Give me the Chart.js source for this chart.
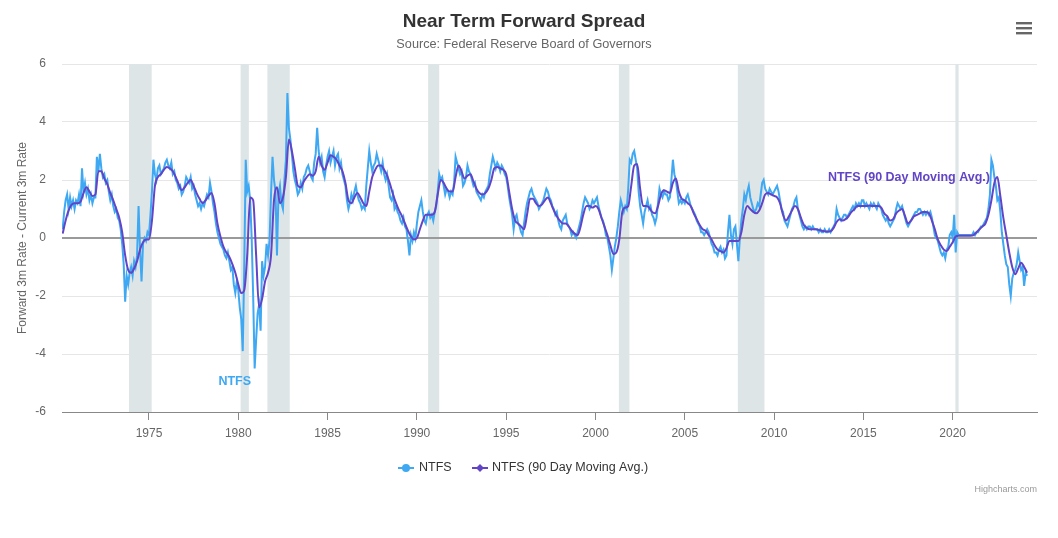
<!DOCTYPE html>
<html>
<head>
<meta charset="utf-8">
<title>Near Term Forward Spread</title>
<script src="https://cdn.jsdelivr.net/npm/chart.js"></script>
<style>
  body { margin: 0; background: #fff; }
  #wrap { position: relative; width: 1058px; height: 538px; }
</style>
</head>
<body>
<div id="wrap"><canvas id="chart" width="1058" height="538"></canvas></div>
<script>
// monthly NTFS readings, first value is March 1970
const ntfsStart = 1970 + 2 / 12;
const ntfsValues = [
  0.3, 0.9, 1.3, 1.5, 1.0, 1.4, 1.1, 1.3, 1.0, 1.3,                 // 1970 (Mar-Dec)
  1.2, 1.5, 1.1, 2.4, 1.6, 1.9, 1.5, 1.7, 1.3, 1.5, 1.2, 1.4,       // 1971
  1.4, 2.8, 2.3, 2.9, 2.4, 2.1, 2.2, 1.9, 2.0, 1.6, 1.3, 1.5,       // 1972
  1.1, 0.9, 1.0, 0.7, 0.6, 0.3, -0.2, -0.9, -2.2, -1.3, -1.6, -1.2, // 1973
  -1.0, -1.3, -0.8, -1.0, -0.6, 1.1, -0.4, -1.5, -0.2, 0.0, -0.1, 0.2, // 1974
  0.1, 0.8, 1.6, 2.7, 2.2, 2.0, 2.4, 2.5, 2.2, 2.3, 2.4, 2.6,       // 1975
  2.7, 2.5, 2.4, 2.6, 2.2, 2.3, 2.0, 1.9, 1.7, 1.8, 1.5, 1.6,       // 1976
  1.8, 2.1, 2.0, 1.9, 2.1, 1.7, 1.8, 1.5, 1.3, 1.1, 1.2, 1.0,       // 1977
  1.2, 1.1, 1.3, 1.5, 1.4, 1.9, 1.6, 1.2, 0.9, 0.5, 0.2, 0.0,       // 1978
  -0.2, -0.3, -0.4, -0.6, -0.7, -0.5, -0.8, -1.1, -1.0, -1.6, -1.9, -1.5, // 1979
  -1.8, -2.4, -2.8, -3.9, -1.0, 2.7, 1.6, 1.8, 1.3, 0.0, -2.0, -4.5, // 1980
  -3.5, -2.6, -2.3, -3.2, -0.8, -1.3, -1.0, -0.2, -0.6, -0.1, 1.5, 2.8, // 1981
  2.0, 1.6, -0.6, 1.5, 1.8, 1.2, 1.0, 2.0, 2.7, 5.0, 3.8, 3.4,      // 1982
  2.9, 2.3, 2.0, 1.8, 1.5, 1.6, 1.9, 1.7, 2.1, 2.2, 2.4, 2.5,       // 1983
  2.3, 2.1, 2.0, 2.6, 2.9, 3.8, 3.0, 2.6, 2.8, 2.3, 2.1, 2.5,       // 1984
  2.8, 3.0, 2.6, 2.8, 3.0, 2.5, 2.8, 2.9, 2.4, 2.6, 2.2, 2.0,       // 1985
  1.8, 1.3, 1.0, 1.2, 1.5, 1.3, 1.6, 1.8, 1.5, 1.3, 1.2, 1.0,       // 1986
  1.1, 1.0, 1.8, 2.4, 3.0, 2.6, 2.3, 2.5, 2.6, 2.9, 2.7, 2.5,       // 1987
  2.3, 2.6, 2.2, 2.0, 2.2, 1.8, 1.4, 1.3, 1.5, 1.0, 1.1, 0.9,       // 1988
  0.8, 0.6, 0.5, 0.7, 0.4, 0.3, -0.1, -0.6, 0.1, -0.1, 0.2, 0.0,    // 1989
  0.5, 0.9, 1.1, 1.3, 0.9, 0.6, 0.5, 0.8, 0.9, 0.7, 0.8, 0.6,       // 1990
  0.9, 1.1, 1.6, 2.2, 2.0, 2.1, 1.8, 1.5, 1.7, 1.6, 1.4, 1.6,       // 1991
  1.5, 1.9, 2.8, 2.6, 2.4, 2.2, 2.3, 1.8, 1.9, 2.1, 2.5, 2.3,       // 1992
  2.2, 2.0, 1.8, 1.9, 1.6, 1.5, 1.4, 1.3, 1.5, 1.4, 1.6, 1.7,       // 1993
  1.8, 2.2, 2.5, 2.8, 2.6, 2.4, 2.6, 2.5, 2.3, 2.5, 2.4, 2.2,       // 1994
  2.1, 1.8, 1.4, 1.1, 0.8, 0.3, 0.7, 0.8, 0.5, 0.4, 0.2, 0.1,       // 1995
  0.5, 0.9, 1.2, 1.4, 1.6, 1.7, 1.5, 1.4, 1.3, 1.2, 1.0, 1.1,       // 1996
  1.2, 1.3, 1.5, 1.7, 1.6, 1.4, 1.3, 1.1, 1.0, 0.8, 0.9, 0.6,       // 1997
  0.4, 0.3, 0.6, 0.7, 0.8, 0.5, 0.4, 0.3, 0.1, 0.2, 0.1, 0.0,       // 1998
  0.2, 0.4, 0.6, 0.9, 1.2, 1.4, 1.3, 1.2, 1.0, 1.1, 1.3, 1.2,       // 1999
  1.3, 1.4, 1.1, 0.9, 0.7, 0.6, 0.4, 0.1, 0.0, -0.3, -0.6, -1.1,    // 2000
  -0.7, -0.3, 0.0, 0.4, 0.9, 1.3, 1.1, 0.9, 1.1, 1.0, 1.7, 2.7,     // 2001
  2.6, 2.9, 3.0, 2.7, 2.4, 1.6, 1.1, 0.8, 0.5, 0.9, 1.1, 1.3,       // 2002
  1.0, 1.1, 0.8, 0.7, 0.5, 0.7, 1.2, 1.7, 1.5, 1.4, 1.6, 1.5,       // 2003
  1.5, 1.3, 1.4, 2.0, 2.7, 2.2, 2.0, 1.6, 1.2, 1.3, 1.2, 1.3,       // 2004
  1.2, 1.4, 1.5, 1.3, 1.1, 1.0, 0.9, 0.8, 0.6, 0.5, 0.4, 0.2,       // 2005
  0.2, 0.1, 0.2, 0.3, 0.2, 0.0, -0.2, -0.3, -0.5, -0.5, -0.6, -0.4, // 2006
  -0.3, -0.5, -0.4, -0.7, -0.6, 0.2, 0.8, 0.1, -0.2, 0.3, 0.4, -0.2, // 2007
  -0.8, 0.0, 0.6, 1.0, 1.5, 1.3, 1.6, 1.8, 1.4, 1.2, 1.0, 0.9,      // 2008
  1.0, 1.2, 1.1, 1.5, 1.9, 2.0, 1.7, 1.6, 1.5, 1.7, 1.6, 1.5,       // 2009
  1.6, 1.7, 1.8, 1.6, 1.3, 1.0, 0.9, 0.6, 0.5, 0.4, 0.6, 0.8,       // 2010
  1.0, 1.1, 1.3, 1.4, 1.0, 0.8, 0.6, 0.4, 0.3, 0.4, 0.3, 0.4,       // 2011
  0.4, 0.3, 0.4, 0.3, 0.3, 0.3, 0.2, 0.3, 0.2, 0.2, 0.3, 0.2,       // 2012
  0.2, 0.3, 0.2, 0.3, 0.4, 0.5, 1.0, 0.8, 0.7, 0.6, 0.7, 0.8,       // 2013
  0.8, 0.7, 0.8, 0.9, 1.0, 1.1, 1.0, 1.2, 1.1, 1.2, 1.1, 1.3,       // 2014
  1.3, 1.1, 1.2, 1.1, 1.0, 1.2, 1.1, 1.2, 1.1, 1.0, 1.2, 1.1,       // 2015
  1.0, 0.8, 0.7, 0.6, 0.7, 0.5, 0.4, 0.5, 0.6, 0.7, 1.0, 1.2,       // 2016
  1.1, 1.0, 1.1, 0.9, 0.7, 0.5, 0.4, 0.5, 0.6, 0.7, 0.8, 0.9,       // 2017
  0.9, 1.0, 1.0, 0.9, 0.8, 0.9, 0.8, 0.9, 0.8, 0.9, 0.7, 0.4,       // 2018
  0.1, 0.0, -0.1, -0.3, -0.5, -0.6, -0.5, -0.7, -0.4, -0.3, 0.1, 0.2, // 2019
  0.0, 0.8, -0.5, 0.2, 0.1, 0.1, 0.1, 0.1, 0.1, 0.1, 0.1, 0.1,      // 2020
  0.1, 0.1, 0.2, 0.1, 0.2, 0.2, 0.3, 0.4, 0.4, 0.5, 0.6, 0.7,       // 2021
  1.0, 1.5, 2.7, 2.5, 2.1, 1.8, 1.3, 1.4, 0.9, 0.2, -0.2, -0.6,     // 2022
  -0.9, -1.0, -1.6, -2.0, -1.4, -1.2, -1.1, -0.9, -0.5, -0.8, -1.1, -1.0, // 2023
  -1.65, -1.2, -1.3                                                 // 2024 (Jan-Mar)
];

// 90 day moving average, read every second month, first value is March 1970
const maStart = 1970 + 2 / 12;
const maValues = [
  0.15, 0.6, 0.95, 1.15, 1.2,           // 1970
  1.2, 1.25, 1.55, 1.75, 1.6, 1.45,     // 1971
  1.5, 2.3, 2.3, 2.05, 1.85, 1.55,      // 1972
  1.3, 1.0, 0.7, 0.2, -0.6, -1.1,       // 1973
  -1.2, -1.05, -0.8, -0.4, -0.15, -0.05, // 1974
  -0.05, 0.6, 1.8, 2.1, 2.2, 2.35,      // 1975
  2.45, 2.4, 2.3, 2.1, 1.85, 1.65,      // 1976
  1.75, 1.9, 2.0, 1.8, 1.55, 1.35,      // 1977
  1.2, 1.3, 1.45, 1.55, 1.2, 0.5,       // 1978
  0.05, -0.3, -0.5, -0.65, -0.9, -1.2,  // 1979
  -1.6, -1.9, -1.8, -0.6, 1.4, 1.3,     // 1980
  -0.6, -2.4, -2.1, -1.5, -1.2, -0.6,   // 1981
  1.3, 1.75, 1.2, 1.4, 2.1, 3.4,        // 1982
  3.0, 2.4, 1.8, 1.75, 1.95, 2.1,       // 1983
  2.2, 2.15, 2.3, 2.8, 2.5, 2.35,       // 1984
  2.6, 2.85, 2.8, 2.7, 2.5, 2.3,        // 1985
  1.9, 1.3, 1.2, 1.4, 1.55, 1.4,        // 1986
  1.2, 1.1, 1.6, 2.1, 2.35, 2.5,        // 1987
  2.5, 2.35, 2.15, 1.85, 1.5, 1.2,      // 1988
  0.95, 0.75, 0.5, 0.25, 0.05, -0.05,   // 1989
  0.0, 0.3, 0.6, 0.8, 0.8, 0.8,         // 1990
  0.9, 1.5, 2.0, 1.9, 1.7, 1.6,         // 1991
  1.6, 2.1, 2.5, 2.3, 2.05, 2.15,       // 1992
  2.2, 1.95, 1.7, 1.55, 1.5, 1.55,      // 1993
  1.7, 2.0, 2.4, 2.45, 2.4, 2.35,       // 1994
  2.2, 1.6, 1.0, 0.6, 0.5, 0.4,         // 1995
  0.3, 0.8, 1.35, 1.35, 1.2, 1.1,       // 1996
  1.15, 1.3, 1.4, 1.2, 0.95, 0.75,      // 1997
  0.6, 0.5, 0.5, 0.4, 0.25, 0.15,       // 1998
  0.1, 0.4, 0.85, 1.1, 1.1, 1.05,       // 1999
  1.1, 1.0, 0.7, 0.4, 0.1, -0.25,       // 2000
  -0.55, -0.5, -0.05, 0.9, 1.05, 1.1,   // 2001
  1.8, 2.5, 2.55, 1.7, 1.1, 1.1,        // 2002
  1.05, 0.9, 0.85, 1.1, 1.5, 1.65,      // 2003
  1.6, 1.55, 1.9, 2.05, 1.6, 1.35,      // 2004
  1.3, 1.2, 1.1, 0.85, 0.65, 0.45,      // 2005
  0.3, 0.25, 0.1, -0.05, -0.25, -0.4,   // 2006
  -0.45, -0.5, -0.35, -0.1, -0.1, -0.1, // 2007
  -0.1, 0.2, 0.8, 1.1, 1.0, 0.9,        // 2008
  0.85, 0.95, 1.2, 1.5, 1.55, 1.5,      // 2009
  1.45, 1.4, 1.2, 0.8, 0.6, 0.75,       // 2010
  0.95, 1.1, 1.0, 0.7, 0.45, 0.35,      // 2011
  0.3, 0.3, 0.3, 0.28, 0.25, 0.23,      // 2012
  0.22, 0.23, 0.35, 0.55, 0.65, 0.6,    // 2013
  0.65, 0.75, 0.9, 1.0, 1.1, 1.1,       // 2014
  1.1, 1.1, 1.12, 1.1, 1.1, 1.1,        // 2015
  1.05, 0.85, 0.75, 0.6, 0.65, 0.85,    // 2016
  0.95, 1.0, 0.75, 0.5, 0.6, 0.75,      // 2017
  0.8, 0.85, 0.9, 0.9, 0.85, 0.6,       // 2018
  0.3, -0.05, -0.25, -0.4, -0.45, -0.3, // 2019
  -0.15, 0.05, 0.08, 0.08, 0.08, 0.08,  // 2020
  0.08, 0.1, 0.2, 0.3, 0.4, 0.5,        // 2021
  0.8, 1.3, 1.9, 2.1, 1.45, 0.7,        // 2022
  0.1, -0.5, -1.0, -1.25, -1.05, -0.85, // 2023
  -1.0, -1.2                            // 2024
];

// recessions shaded on the chart [start, end] in decimal years
const recessions = [
  [1973.88, 1975.15], [1980.13, 1980.59], [1981.63, 1982.88], [1990.63, 1991.25],
  [2001.31, 2001.9], [2007.97, 2009.46], [2020.15, 2020.33]
];

const xTicks = [1975, 1980, 1985, 1990, 1995, 2000, 2005, 2010, 2015, 2020];
const yTicks = [-6, -4, -2, 0, 2, 4, 6];
const seriesNames = ["NTFS", "NTFS (90 Day Moving Avg.)"];

const blue = "#3ea8f3";
const purple = "#6244c6";
const FONT = '"Liberation Sans", Arial, Helvetica, sans-serif';

const ntfsPoints = ntfsValues.map((v, i) => ({ x: ntfsStart + i / 12, y: v }));
const maPoints = maValues.map((v, i) => ({ x: maStart + i * 2 / 12, y: v }));

// grey recession bands behind everything in the plot
const bandsPlugin = {
  id: "bands",
  beforeDatasetsDraw(chart) {
    const { ctx, chartArea, scales } = chart;
    ctx.save();
    ctx.fillStyle = "#dde5e6";
    recessions.forEach(r => {
      const x1 = scales.x.getPixelForValue(r[0]);
      const x2 = scales.x.getPixelForValue(r[1]);
      ctx.fillRect(x1, chartArea.top, x2 - x1, chartArea.bottom - chartArea.top);
    });
    // zero line sits above the bands
    const y0 = Math.round(scales.y.getPixelForValue(0));
    ctx.strokeStyle = "#9a9a9a";
    ctx.lineWidth = 2;
    ctx.beginPath();
    ctx.moveTo(chartArea.left, y0);
    ctx.lineTo(chartArea.right, y0);
    ctx.stroke();
    ctx.restore();
  }
};

// title, subtitle, menu icon, series labels, legend and credits
const decorPlugin = {
  id: "decor",
  afterDatasetsDraw(chart) {
    const { ctx, scales } = chart;
    ctx.save();
    ctx.font = "bold 12.5px " + FONT;
    ctx.textAlign = "center";
    ctx.textBaseline = "middle";
    ctx.fillStyle = blue;
    ctx.fillText("NTFS", scales.x.getPixelForValue(1979.8), scales.y.getPixelForValue(-4.95));
    ctx.fillStyle = purple;
    ctx.fillText("NTFS (90 Day Moving Avg.)", scales.x.getPixelForValue(2017.55), scales.y.getPixelForValue(2.1));
    ctx.restore();
  },
  afterDraw(chart) {
    const { ctx } = chart;
    const cx = 524;
    ctx.save();
    ctx.textAlign = "center";
    ctx.textBaseline = "middle";
    ctx.fillStyle = "#333333";
    ctx.font = "bold 19px " + FONT;
    ctx.fillText("Near Term Forward Spread", cx, 22);
    ctx.fillStyle = "#666666";
    ctx.font = "12.7px " + FONT;
    ctx.fillText("Source: Federal Reserve Board of Governors", cx, 44);

    // menu icon
    ctx.fillStyle = "#666666";
    [23, 28, 33].forEach(y => ctx.fillRect(1016, y - 1, 16, 2.4));

    // legend
    const ly = 468;
    ctx.lineWidth = 2;
    ctx.strokeStyle = blue;
    ctx.beginPath(); ctx.moveTo(398, ly); ctx.lineTo(414, ly); ctx.stroke();
    ctx.fillStyle = blue;
    ctx.beginPath(); ctx.arc(406, ly, 4, 0, Math.PI * 2); ctx.fill();
    ctx.strokeStyle = purple;
    ctx.beginPath(); ctx.moveTo(472, ly); ctx.lineTo(488, ly); ctx.stroke();
    ctx.fillStyle = purple;
    ctx.beginPath();
    ctx.moveTo(480, ly - 4); ctx.lineTo(484, ly); ctx.lineTo(480, ly + 4); ctx.lineTo(476, ly);
    ctx.closePath(); ctx.fill();
    ctx.textAlign = "left";
    ctx.fillStyle = "#333333";
    ctx.font = "12.5px " + FONT;
    ctx.fillText(seriesNames[0], 419, ly);
    ctx.fillText(seriesNames[1], 492, ly);

    // credits
    ctx.textAlign = "right";
    ctx.fillStyle = "#999999";
    ctx.font = "9px " + FONT;
    ctx.fillText("Highcharts.com", 1037, 490);
    ctx.restore();
  }
};

const chart = new Chart(document.getElementById("chart").getContext("2d"), {
  type: "line",
  data: {
    datasets: [
      { label: seriesNames[0], data: ntfsPoints, borderColor: blue, borderWidth: 2,
        pointRadius: 0, tension: 0, order: 2 },
      { label: seriesNames[1], data: maPoints, borderColor: purple, borderWidth: 2,
        pointRadius: 0, cubicInterpolationMode: "monotone", order: 1 }
    ]
  },
  options: {
    responsive: false,
    animation: false,
    layout: { padding: { top: 64, right: 21, bottom: 0, left: 0 } },
    plugins: { legend: { display: false }, tooltip: { enabled: false } },
    scales: {
      x: {
        type: "linear",
        min: 1970.13,
        max: 2024.72,
        afterBuildTicks: s => { s.ticks = xTicks.map(v => ({ value: v })); },
        afterFit: s => { s.height = 126; },
        grid: { drawOnChartArea: false, drawTicks: true, tickLength: 8, tickColor: "#888888" },
        border: { color: "#888888", width: 1 },
        ticks: { color: "#666666", font: { size: 12, family: FONT }, padding: 6,
                 maxRotation: 0, autoSkip: false, callback: v => String(v) }
      },
      y: {
        min: -6,
        max: 6,
        afterBuildTicks: s => { s.ticks = yTicks.map(v => ({ value: v })); },
        afterFit: s => { s.width = 62; },
        grid: { color: c => (c.tick.value === -6 ? "rgba(0,0,0,0)" : "#e6e6e6"), drawTicks: false },
        border: { display: false },
        ticks: { color: "#666666", font: { size: 12, family: FONT }, padding: 16 },
        title: { display: true, text: "Forward 3m Rate - Current 3m Rate", color: "#666666",
                 font: { size: 12, family: FONT }, padding: { top: 15, bottom: 4 } }
      }
    }
  },
  plugins: [bandsPlugin, decorPlugin]
});
</script>
</body>
</html>
